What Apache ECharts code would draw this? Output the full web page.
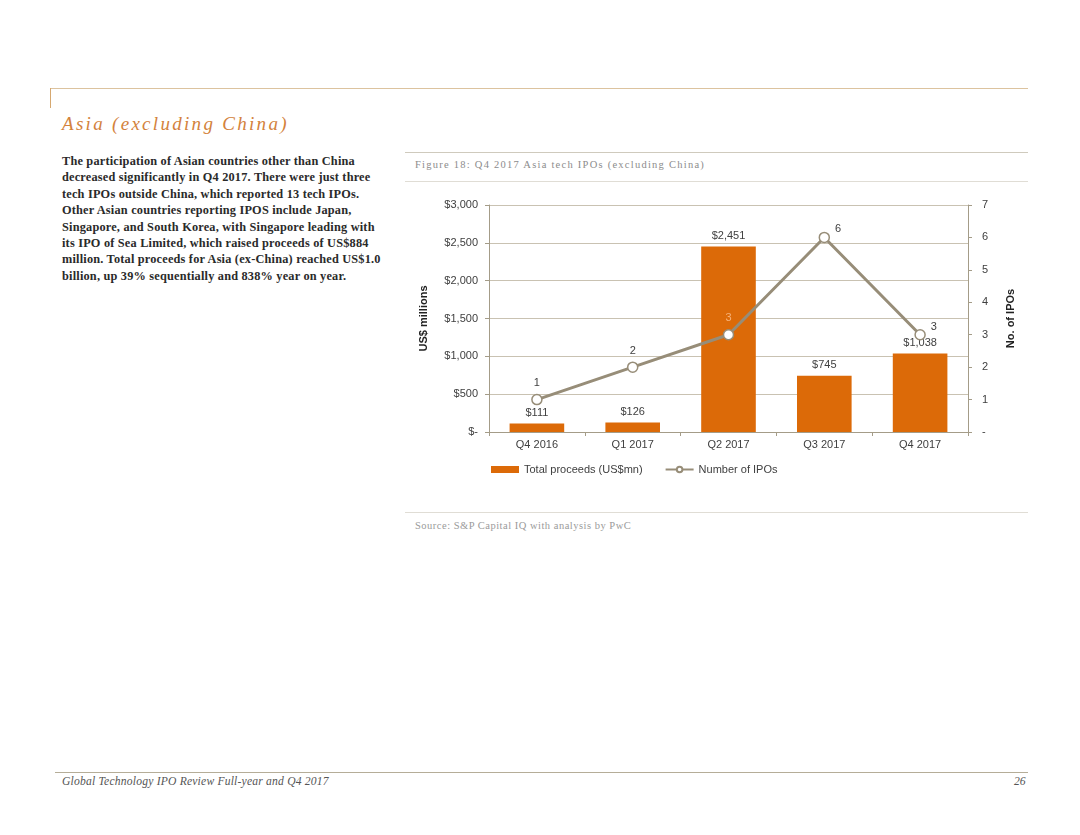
<!DOCTYPE html>
<html>
<head>
<meta charset="utf-8">
<script src="https://cdn.jsdelivr.net/npm/echarts@6/dist/echarts.min.js"></script>
<style>
  html, body { margin:0; padding:0; background:#fff; width:1080px; height:835px; overflow:hidden; position:relative; }
  .abs { position:absolute; }
  .hline { position:absolute; height:1px; }
  #title { left:62px; top:113px; font-family:"Liberation Serif","DejaVu Serif",serif; font-style:italic; font-size:19px; letter-spacing:2.3px; color:#d3823c; white-space:nowrap; }
  #body { left:62px; top:153px; font-family:"Liberation Serif","DejaVu Serif",serif; font-weight:bold; font-size:12.3px; line-height:16.4px; color:#2a2a2a; white-space:nowrap; letter-spacing:0.2px; }
  #caption { left:415px; top:159px; font-family:"Liberation Serif","DejaVu Serif",serif; font-size:10.5px; letter-spacing:1.25px; color:#8c8c8c; white-space:nowrap; }
  #source { left:415px; top:520px; font-family:"Liberation Serif","DejaVu Serif",serif; font-size:10.5px; letter-spacing:0.5px; color:#9a9a9a; white-space:nowrap; }
  #footer { left:62px; top:775px; font-family:"Liberation Serif","DejaVu Serif",serif; font-style:italic; font-size:11.6px; letter-spacing:0.2px; color:#555; white-space:nowrap; }
  #pnum { left:1014px; top:775px; font-family:"Liberation Serif","DejaVu Serif",serif; font-style:italic; font-size:11.6px; color:#555; }
  #chart { position:absolute; left:400px; top:190px; width:630px; height:305px; }
</style>
</head>
<body>
<div class="hline" style="left:50px; top:88px; width:978px; background:#dcc39f;"></div>
<div class="abs" style="left:50px; top:88px; width:1px; height:20px; background:#d6a870;"></div>
<div id="title" class="abs">Asia (excluding China)</div>
<div id="body" class="abs">The participation of Asian countries other than China<br>decreased significantly in Q4 2017. There were just three<br>tech IPOs outside China, which reported 13 tech IPOs.<br>Other Asian countries reporting IPOS include Japan,<br>Singapore, and South Korea, with Singapore leading with<br>its IPO of Sea Limited, which raised proceeds of US$884<br>million. Total proceeds for Asia (ex-China) reached US$1.0<br>billion, up 39% sequentially and 838% year on year.</div>

<div class="hline" style="left:405px; top:152px; width:623px; background:#cfcabd;"></div>
<div id="caption" class="abs">Figure 18: Q4 2017 Asia tech IPOs (excluding China)</div>
<div class="hline" style="left:405px; top:181px; width:623px; background:#e0ddd5;"></div>

<div id="chart"></div>

<div class="hline" style="left:405px; top:512px; width:623px; background:#e0ddd5;"></div>
<div id="source" class="abs">Source: S&amp;P Capital IQ with analysis by PwC</div>

<div class="hline" style="left:55px; top:772px; width:973px; background:#b5ad98;"></div>
<div id="footer" class="abs">Global Technology IPO Review Full-year and Q4 2017</div>
<div id="pnum" class="abs">26</div>

<script>
const categories = ['Q4 2016', 'Q1 2017', 'Q2 2017', 'Q3 2017', 'Q4 2017'];
const proceeds = [111, 126, 2451, 745, 1038];
const ipoCounts = [1, 2, 3, 6, 3];
const leftTicks = { min: 0, max: 3000, interval: 500 };
const rightTicks = { min: 0, max: 7, interval: 1 };

const txt = '#404040';
const axisCol = '#a49c88';
const gridCol = '#c9c2b2';
const barCol = '#dc6a08';
const lineCol = '#978d78';
const fontFam = '"Liberation Sans", Arial, sans-serif';

const chart = echarts.init(document.getElementById('chart'), null, { renderer: 'canvas' });
chart.setOption({
  animation: false,
  textStyle: { fontFamily: fontFam },
  grid: { left: 89, right: 62, top: 15, bottom: 63, containLabel: false },
  legend: {
    left: 86, top: 269,
    itemGap: 22,
    itemWidth: 28, itemHeight: 7,
    textStyle: { color: txt, fontSize: 11, fontFamily: fontFam },
    data: [
      { name: 'Total proceeds (US$mn)', icon: 'rect' },
      { name: 'Number of IPOs' }
    ]
  },
  xAxis: {
    type: 'category',
    data: categories,
    axisLine: { lineStyle: { color: axisCol, width: 1 } },
    axisTick: { show: true, alignWithLabel: false, length: 4, lineStyle: { color: axisCol } },
    axisLabel: { color: txt, fontSize: 11, margin: 7 }
  },
  yAxis: [
    {
      type: 'value', min: leftTicks.min, max: leftTicks.max, interval: leftTicks.interval,
      name: 'US$ millions', nameLocation: 'middle', nameGap: 60, nameRotate: 90,
      nameTextStyle: { color: '#222', fontWeight: 'bold', fontSize: 11, fontFamily: fontFam },
      axisLine: { show: true, lineStyle: { color: axisCol } },
      axisTick: { show: true, length: 4, lineStyle: { color: axisCol } },
      splitLine: { show: true, lineStyle: { color: gridCol, width: 1 } },
      axisLabel: { color: txt, fontSize: 11, margin: 11,
        formatter: v => v === 0 ? '$-' : '$' + v.toLocaleString('en-US') }
    },
    {
      type: 'value', min: rightTicks.min, max: rightTicks.max, interval: rightTicks.interval,
      position: 'right',
      name: 'No. of IPOs', nameLocation: 'middle', nameGap: 37, nameRotate: 90,
      nameTextStyle: { color: '#222', fontWeight: 'bold', fontSize: 11, fontFamily: fontFam },
      axisLine: { show: true, lineStyle: { color: axisCol } },
      axisTick: { show: true, length: 4, lineStyle: { color: axisCol } },
      splitLine: { show: false },
      axisLabel: { color: txt, fontSize: 11, margin: 14,
        formatter: v => v === 0 ? '-' : String(v) }
    }
  ],
  series: [
    {
      name: 'Total proceeds (US$mn)',
      type: 'bar',
      yAxisIndex: 0,
      data: proceeds,
      barWidth: '57%',
      itemStyle: { color: barCol },
      label: { show: true, position: 'top', distance: 5, color: txt, fontSize: 11,
        formatter: p => '$' + p.value.toLocaleString('en-US') }
    },
    {
      name: 'Number of IPOs',
      type: 'line',
      yAxisIndex: 1,
      data: ipoCounts.map((v, i) => i === 2
        ? { value: v, label: { color: '#f6b27a', position: 'top' } }
        : (i === 4 || i === 3 ? { value: v, label: { position: 'right', offset: [0, -8] } } : v)),
      symbol: 'circle', symbolSize: 10,
      lineStyle: { color: lineCol, width: 3 },
      itemStyle: { color: '#fff', borderColor: lineCol, borderWidth: 1.5 },
      label: { show: true, position: 'top', distance: 5, color: txt, fontSize: 11 },
      z: 5
    }
  ]
});
</script>
</body>
</html>
